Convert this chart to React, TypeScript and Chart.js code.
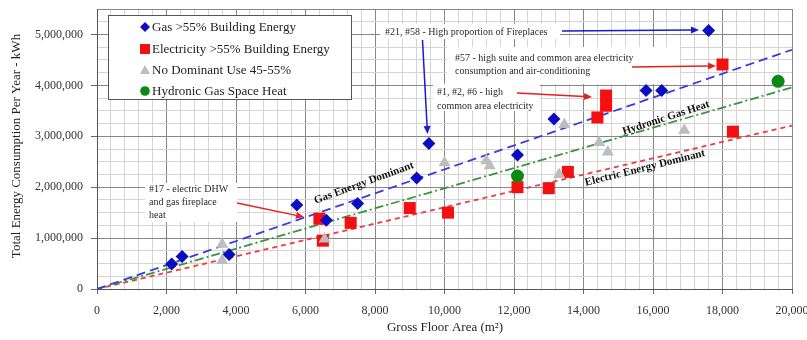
import React, { useEffect, useRef } from 'react';
import { Chart, registerables } from 'chart.js';

Chart.register(...registerables);

const SERIF = '"Liberation Serif", "Times New Roman", serif';

// Gross floor area (m²) and total annual energy (kWh) per building group
const gasArea = [2150, 2450, 3800, 5750, 6600, 7500, 9200, 9550, 12100, 13150, 15800, 16250, 17600];
const gasEnergy = [490000, 640000, 680000, 1650000, 1350000, 1680000, 2180000, 2860000, 2630000, 3340000, 3900000, 3900000, 5080000];

const elecArea = [6400, 6500, 7300, 9000, 10100, 12100, 13000, 13550, 14400, 14650, 14650, 18000, 18300];
const elecEnergy = [1380000, 950000, 1300000, 1590000, 1500000, 2000000, 1980000, 2300000, 3370000, 3800000, 3600000, 4410000, 3090000];

const mixedArea = [3600, 3600, 6550, 10000, 11200, 11300, 13300, 13450, 14450, 14700, 16900];
const mixedEnergy = [880000, 560000, 980000, 2480000, 2520000, 2420000, 2250000, 3230000, 2880000, 2690000, 3120000];

const hydronicArea = [12100, 19600];
const hydronicEnergy = [2220000, 4080000];

// Trend lines through the origin
const trendArea = [0, 20000];
const gasTrend = [0, 4700000];
const hydronicTrend = [0, 3960000];
const electricTrend = [0, 3210000];

const seriesNames = [
  'Gas >55% Building Energy',
  'Electricity >55% Building Energy',
  'No Dominant Use 45-55%',
  'Hydronic Gas Space Heat',
];

const GAS_BLUE = '#0c0cc0';
const ELEC_RED = '#f41010';
const MIXED_GREY = '#bdbdbd';
const HYDRO_GREEN = '#0a8a12';

const zip = (xs: number[], ys: number[]) => xs.map((x, i) => ({ x, y: ys[i] }));
const isMultiple = (v: number, step: number) => Math.abs(v / step - Math.round(v / step)) < 1e-6;
const fmt = (v: number) => Math.round(v).toLocaleString('en-US');

function arrow(ctx: CanvasRenderingContext2D, x1: number, y1: number, x2: number, y2: number, color: string) {
  const a = Math.atan2(y2 - y1, x2 - x1);
  const len = 8;
  const half = 3.5;
  const bx = x2 - Math.cos(a) * len;
  const by = y2 - Math.sin(a) * len;
  ctx.save();
  ctx.strokeStyle = color;
  ctx.fillStyle = color;
  ctx.lineWidth = 1.5;
  ctx.beginPath();
  ctx.moveTo(x1, y1);
  ctx.lineTo(bx, by);
  ctx.stroke();
  ctx.beginPath();
  ctx.moveTo(x2, y2);
  ctx.lineTo(bx + Math.sin(a) * half, by - Math.cos(a) * half);
  ctx.lineTo(bx - Math.sin(a) * half, by + Math.cos(a) * half);
  ctx.closePath();
  ctx.fill();
  ctx.restore();
}

function whiteBox(ctx: CanvasRenderingContext2D, x1: number, y1: number, x2: number, y2: number) {
  ctx.fillStyle = '#ffffff';
  ctx.fillRect(x1, y1, x2 - x1, y2 - y1);
}

function lines(ctx: CanvasRenderingContext2D, texts: string[], x: number, y: number, dy: number, size: number) {
  ctx.font = `${size}px ${SERIF}`;
  ctx.fillStyle = '#2a2a2a';
  ctx.textAlign = 'left';
  ctx.textBaseline = 'middle';
  texts.forEach((t, i) => ctx.fillText(t, x, y + i * dy));
}

function slanted(ctx: CanvasRenderingContext2D, text: string, cx: number, cy: number, deg: number) {
  ctx.save();
  ctx.translate(cx, cy);
  ctx.rotate((deg * Math.PI) / 180);
  ctx.font = `bold 11px ${SERIF}`;
  ctx.fillStyle = '#111';
  ctx.textAlign = 'center';
  ctx.textBaseline = 'middle';
  ctx.fillText(text, 0, 0);
  ctx.restore();
}

const overlay = {
  id: 'overlay',
  beforeDatasetsDraw(chart: Chart) {
    const ctx = chart.ctx;
    ctx.save();
    // legend frame
    whiteBox(ctx, 108, 15, 351, 99);
    ctx.strokeStyle = '#555';
    ctx.lineWidth = 1;
    ctx.strokeRect(108.5, 15.5, 243, 84);
    // note backgrounds
    whiteBox(ctx, 380, 24, 560, 39);
    whiteBox(ctx, 447, 47, 680, 84);
    whiteBox(ctx, 433, 84, 540, 111);
    whiteBox(ctx, 145, 183, 237, 222);
    ctx.restore();
  },
  afterDatasetsDraw(chart: Chart) {
    const ctx = chart.ctx;
    ctx.save();

    // legend entries
    const lx = 145;
    const rows = [27, 49, 70, 91];
    ctx.fillStyle = GAS_BLUE;
    ctx.beginPath();
    ctx.moveTo(lx, rows[0] - 5);
    ctx.lineTo(lx + 5, rows[0]);
    ctx.lineTo(lx, rows[0] + 5);
    ctx.lineTo(lx - 5, rows[0]);
    ctx.closePath();
    ctx.fill();
    ctx.fillStyle = ELEC_RED;
    ctx.fillRect(lx - 5, rows[1] - 5, 10, 10);
    ctx.fillStyle = MIXED_GREY;
    ctx.beginPath();
    ctx.moveTo(lx, rows[2] - 5);
    ctx.lineTo(lx + 5, rows[2] + 4);
    ctx.lineTo(lx - 5, rows[2] + 4);
    ctx.closePath();
    ctx.fill();
    ctx.fillStyle = HYDRO_GREEN;
    ctx.beginPath();
    ctx.arc(lx, rows[3], 4.8, 0, Math.PI * 2);
    ctx.fill();
    ctx.font = `13px ${SERIF}`;
    ctx.fillStyle = '#222';
    ctx.textAlign = 'left';
    ctx.textBaseline = 'middle';
    seriesNames.forEach((name, i) => ctx.fillText(name, 152, rows[i] + 0.5));

    // notes
    lines(ctx, ['#21, #58 - High proportion of Fireplaces'], 385, 32, 0, 10);
    lines(ctx, ['#57 - high suite and common area electricity', 'consumption and air-conditioning'], 455, 58, 13.5, 10);
    lines(ctx, ['#1, #2, #6 - high', 'common area electricity'], 437, 92, 14, 10);
    lines(ctx, ['#17 - electric DHW', 'and gas fireplace', 'heat'], 149, 189, 13, 10);

    // pointers
    arrow(ctx, 562, 31, 699, 30, '#1a1ad0');
    arrow(ctx, 422.5, 40, 427.5, 134, '#1a1ad0');
    arrow(ctx, 632, 67, 716, 66, '#e82020');
    arrow(ctx, 517, 93, 592, 97, '#e82020');
    arrow(ctx, 237, 203, 304, 217, '#e82020');

    // trend line captions
    slanted(ctx, 'Gas Energy Dominant', 364, 183, -20);
    slanted(ctx, 'Hydronic Gas Heat', 666, 118, -18);
    slanted(ctx, 'Electric Energy Dominant', 645, 168, -14);

    // axis titles
    ctx.font = `13px ${SERIF}`;
    ctx.fillStyle = '#222';
    ctx.textAlign = 'center';
    ctx.textBaseline = 'middle';
    ctx.fillText('Gross Floor Area (m²)', 445, 328);
    ctx.save();
    ctx.translate(17, 146);
    ctx.rotate(-Math.PI / 2);
    ctx.fillText('Total Energy Consumption Per Year - kWh', 0, 0);
    ctx.restore();

    ctx.restore();
  },
};

export default function App() {
  const canvasRef = useRef<HTMLCanvasElement>(null);

  useEffect(() => {
    const canvas = canvasRef.current;
    if (!canvas) return;

    const trend = (ys: number[], color: string, dash: number[], order: number) => ({
      type: 'line' as const,
      data: zip(trendArea, ys),
      borderColor: color,
      borderWidth: 1.8,
      borderDash: dash,
      pointRadius: 0,
      showLine: true,
      fill: false,
      order,
    });

    const chart = new Chart(canvas, {
      type: 'scatter',
      data: {
        datasets: [
          {
            label: seriesNames[0],
            data: zip(gasArea, gasEnergy),
            pointStyle: 'rectRot',
            pointRadius: 6.5,
            backgroundColor: GAS_BLUE,
            borderColor: GAS_BLUE,
            borderWidth: 0,
            order: 2,
          },
          {
            label: seriesNames[1],
            data: zip(elecArea, elecEnergy),
            pointStyle: 'rect',
            pointRadius: 8.5,
            backgroundColor: ELEC_RED,
            borderColor: ELEC_RED,
            borderWidth: 0,
            order: 3,
          },
          {
            label: seriesNames[2],
            data: zip(mixedArea, mixedEnergy),
            pointStyle: 'triangle',
            pointRadius: 7,
            backgroundColor: MIXED_GREY,
            borderColor: MIXED_GREY,
            borderWidth: 0,
            order: 1,
          },
          {
            label: seriesNames[3],
            data: zip(hydronicArea, hydronicEnergy),
            pointStyle: 'circle',
            pointRadius: 6.5,
            backgroundColor: HYDRO_GREEN,
            borderColor: HYDRO_GREEN,
            borderWidth: 0,
            order: 0,
          },
          trend(gasTrend, '#3b3be0', [9, 5], 5),
          trend(hydronicTrend, '#3a963a', [9, 3, 2, 3], 6),
          trend(electricTrend, '#ec3c44', [5, 4], 7),
        ] as any,
      },
      options: {
        animation: false,
        responsive: true,
        maintainAspectRatio: false,
        layout: { padding: { top: 9, right: 15, left: 0, bottom: 0 } },
        plugins: {
          legend: { display: false },
          tooltip: { enabled: false },
        },
        scales: {
          x: {
            type: 'linear',
            min: 0,
            max: 20000,
            ticks: {
              stepSize: 400,
              autoSkip: false,
              maxRotation: 0,
              padding: 10,
              color: '#333',
              font: { family: SERIF, size: 12 },
              callback: (v: any) => (isMultiple(Number(v), 2000) ? fmt(Number(v)) : ''),
            },
            grid: {
              color: (c: any) => (isMultiple(c.tick.value, 2000) ? '#878787' : '#d4d4d4'),
              tickColor: (c: any) => (isMultiple(c.tick.value, 2000) ? '#666' : 'rgba(0,0,0,0)'),
              tickLength: 5,
              lineWidth: 1,
            },
            border: { color: '#555', width: 1 },
            afterFit: (s: any) => {
              s.height = 51;
              s.paddingLeft = 0;
              s.paddingRight = 0;
            },
          },
          y: {
            type: 'linear',
            min: 0,
            max: 5500000,
            ticks: {
              stepSize: 250000,
              autoSkip: false,
              padding: 8,
              color: '#333',
              font: { family: SERIF, size: 12 },
              callback: (v: any) => (isMultiple(Number(v), 1000000) ? fmt(Number(v)) : ''),
            },
            grid: {
              color: (c: any) =>
                isMultiple(c.tick.value, 1000000) || c.tick.value >= 5500000 ? '#878787' : '#d4d4d4',
              tickColor: (c: any) => (isMultiple(c.tick.value, 1000000) ? '#666' : 'rgba(0,0,0,0)'),
              tickLength: 6,
              lineWidth: 1,
            },
            border: { color: '#555', width: 1 },
            afterFit: (s: any) => {
              s.width = 97;
              s.paddingTop = 0;
              s.paddingBottom = 0;
            },
          },
        },
      },
      plugins: [overlay],
    });

    return () => chart.destroy();
  }, []);

  return (
    <div style={{ position: 'absolute', left: 0, top: 0, width: 807, height: 340, background: '#fff' }}>
      <canvas ref={canvasRef} />
    </div>
  );
}
